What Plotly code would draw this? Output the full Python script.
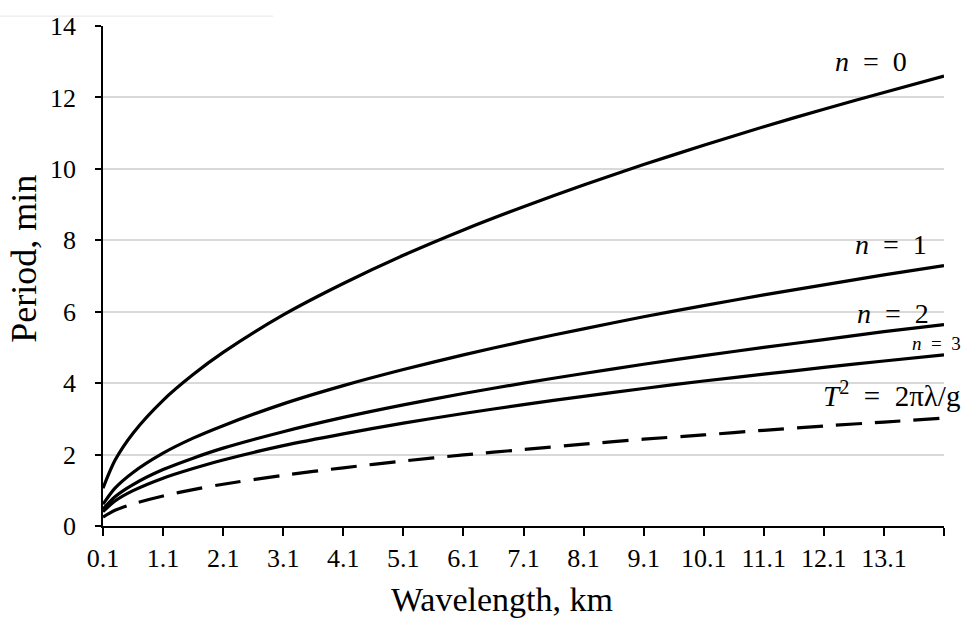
import plotly.graph_objects as go

wavelength = [0.1, 0.3, 0.6, 1.1, 1.6, 2.1, 3.1, 4.1, 5.1, 6.1, 7.1, 8.1, 9.1, 10.1, 11.1, 12.1, 13.1, 14.1]
period_n0 = [1.06, 1.84, 2.60, 3.52, 4.24, 4.86, 5.91, 6.79, 7.58, 8.29, 8.94, 9.55, 10.12, 10.66, 11.18, 11.67, 12.14, 12.60]
period_n1 = [0.61, 1.06, 1.50, 2.04, 2.46, 2.81, 3.42, 3.93, 4.38, 4.79, 5.17, 5.52, 5.86, 6.17, 6.47, 6.75, 7.03, 7.29]
period_n2 = [0.47, 0.82, 1.16, 1.58, 1.90, 2.18, 2.64, 3.04, 3.39, 3.71, 4.00, 4.27, 4.53, 4.77, 5.00, 5.22, 5.44, 5.64]
period_n3 = [0.40, 0.70, 0.99, 1.34, 1.61, 1.85, 2.25, 2.58, 2.88, 3.15, 3.40, 3.63, 3.85, 4.06, 4.25, 4.44, 4.62, 4.79]
period_deep = [0.25, 0.44, 0.62, 0.84, 1.02, 1.17, 1.42, 1.63, 1.82, 1.99, 2.14, 2.29, 2.43, 2.55, 2.68, 2.80, 2.91, 3.02]

x_tickvals = [0.1, 1.1, 2.1, 3.1, 4.1, 5.1, 6.1, 7.1, 8.1, 9.1, 10.1, 11.1, 12.1, 13.1]
x_ticktext = ["0.1", "1.1", "2.1", "3.1", "4.1", "5.1", "6.1", "7.1", "8.1", "9.1", "10.1", "11.1", "12.1", "13.1"]
x_end_tick = [14.1]
y_tickvals = [0, 2, 4, 6, 8, 10, 12, 14]

FONT = "Liberation Serif, Times New Roman, serif"
SP = "\u2002"

fig = go.Figure()
for ys in [period_n0, period_n1, period_n2, period_n3]:
    fig.add_trace(go.Scatter(x=wavelength, y=ys, mode="lines",
                             line=dict(color="black", width=3.2, shape="spline", smoothing=0.8),
                             showlegend=False, hoverinfo="skip"))
fig.add_trace(go.Scatter(x=wavelength, y=period_deep, mode="lines",
                         line=dict(color="black", width=3.2, dash="26px,13px", shape="spline", smoothing=0.8),
                         showlegend=False, hoverinfo="skip"))

ann = [
    (f"<i>n</i>{SP}={SP}0", 12.88, 13.0, 28),
    (f"<i>n</i>{SP}={SP}1", 13.22, 7.87, 28),
    (f"<i>n</i>{SP}={SP}2", 13.25, 5.94, 28),
    (f"<i>n</i>{SP}={SP}3", 13.97, 5.10, 19),
    (f"<i>T</i><sup>2</sup>{SP}={SP}2πλ/g", 13.22, 3.69, 29),
]
for text, x, y, s in ann:
    fig.add_annotation(x=x, y=y, text=text, showarrow=False, xanchor="center", yanchor="middle",
                       font=dict(family=FONT, size=s, color="black"))

# axis titles
fig.add_annotation(xref="paper", yref="paper", x=(502 - 103) / 841, y=(526 - 600) / 505,
                   text="Wavelength, km", showarrow=False, xanchor="center", yanchor="middle",
                   font=dict(family=FONT, size=34, color="black"))
fig.add_annotation(xref="paper", yref="paper", x=(24 - 103) / 841, y=(526 - 256) / 505,
                   text="Period, min", showarrow=False, textangle=-90, xanchor="center", yanchor="middle",
                   font=dict(family=FONT, size=36, color="black"))

fig.add_shape(type="line", xref="paper", yref="paper", x0=(0 - 103) / 841, x1=(273 - 103) / 841,
              y0=(526 - 11) / 505, y1=(526 - 11) / 505, line=dict(color="#e6e6e6", width=1))

fig.update_layout(
    width=967, height=619,
    margin=dict(l=103, r=23, t=21, b=93),
    paper_bgcolor="white", plot_bgcolor="white",
    font=dict(family=FONT, size=26, color="black"),
    xaxis=dict(range=[0.1, 14.1], tickmode="array", tickvals=x_tickvals, ticktext=x_ticktext,
               showgrid=False, zeroline=False, showline=True, linecolor="black", linewidth=1.5,
               ticks="outside", ticklen=8, tickwidth=1.5, tickcolor="black",
               minor=dict(tickmode="array", tickvals=x_end_tick, ticks="outside", ticklen=8,
                          tickwidth=1.5, tickcolor="black", showgrid=False),
               tickfont=dict(family=FONT, size=26, color="black")),
    yaxis=dict(range=[0, 14], tickmode="array", tickvals=y_tickvals,
               showgrid=True, gridcolor="#d9d9d9", gridwidth=1.5, zeroline=False,
               showline=True, linecolor="black", linewidth=1.5,
               ticks="outside", ticklen=6, tickwidth=1.5, tickcolor="black",
               ticklabelstandoff=14,
               tickfont=dict(family=FONT, size=26, color="black")),
)

fig.write_html("out.html")
